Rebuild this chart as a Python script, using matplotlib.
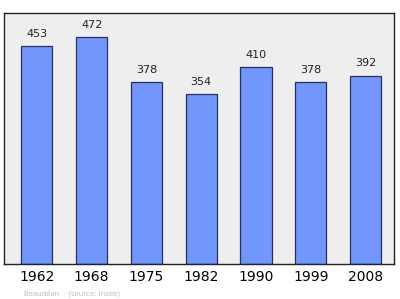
import matplotlib.pyplot as plt
import numpy as np

# population by census year
years = ['1962', '1968', '1975', '1982', '1990', '1999', '2008']
population = [453, 472, 378, 354, 410, 378, 392]

fig = plt.figure(figsize=(4.0, 2.99), dpi=100)
ax = fig.add_axes([4 / 400, 1 - 264 / 299, 390 / 400, 251 / 299])
ax.set_facecolor('#eeeeee')

x = np.arange(len(years))
bars = ax.bar(x, population, width=0.57, color='#7197ff', edgecolor='#25325e', linewidth=0.9)
for xi, v in zip(x, population):
    ax.text(xi, v + 15, str(v), ha='center', va='bottom', fontsize=8, color='#222222')

ax.set_xlim(-0.6, len(years) - 0.48)
ax.set_ylim(0, 522)
ax.set_xticks(x)
ax.set_xticklabels(years, fontsize=10)
ax.tick_params(axis='x', length=0, pad=4)
ax.set_yticks([])
for s in ax.spines.values():
    s.set_color('#222222')
    s.set_linewidth(1.0)

fig.text(24 / 400, 1 - 293 / 299, 'Beaudéan    (source: Insee)', fontsize=5, color='#bbbbbb', va='center')

fig.savefig('out.png', dpi=100)
